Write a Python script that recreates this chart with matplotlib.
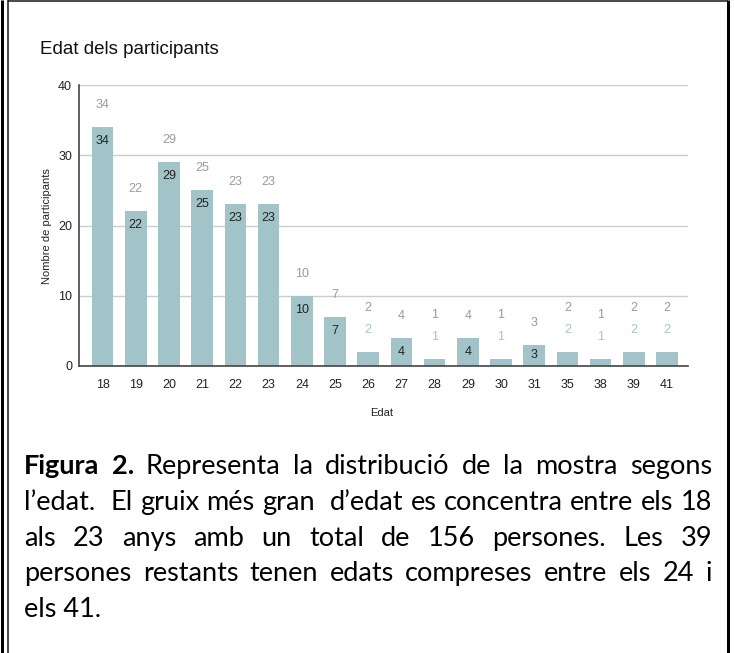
import matplotlib
matplotlib.use("Agg")
import matplotlib.pyplot as plt
from matplotlib.lines import Line2D

# ---- data ----
ages = ['18', '19', '20', '21', '22', '23', '24', '25', '26', '27', '28', '29', '30', '31', '35', '38', '39', '41']
counts = [34, 22, 29, 25, 23, 23, 10, 7, 2, 4, 1, 4, 1, 3, 2, 1, 2, 2]
title = "Edat dels participants"
xlabel = "Edat"
ylabel = "Nombre de participants"
yticks = [0, 10, 20, 30, 40]
caption_lines = [
    [("Figura", "bold"), ("2.", "bold"), ("Representa", "normal"), ("la", "normal"),
     ("distribució", "normal"), ("de", "normal"), ("la", "normal"), ("mostra", "normal"),
     ("segons", "normal")],
    "l’edat.  El gruix més gran  d’edat es concentra entre els 18",
    "als 23 anys amb un total de 156 persones. Les 39",
    "persones restants tenen edats compreses entre els 24 i",
]
caption_last = "els 41."

W, H = 735, 653
DPI = 100
fig = plt.figure(figsize=(W / DPI, H / DPI), dpi=DPI)
fig.patch.set_facecolor("white")

CHART_FONT = ["Liberation Sans", "DejaVu Sans"]
CAP_FONT = ["Lato", "DejaVu Sans"]

bar_color = "#a2c4c9"
gray_lbl = "#9a9a9a"
dark_lbl = "#222222"

ax_l, ax_r, ax_t, ax_b = 79, 688, 85, 366
ax = fig.add_axes([ax_l / W, 1 - ax_b / H, (ax_r - ax_l) / W, (ax_b - ax_t) / H])
x = list(range(len(ages)))
ax.bar(x, counts, width=0.65, color=bar_color, zorder=3)
ax.set_xlim(-0.71, len(ages) - 1 + 0.63)
ax.set_ylim(0, 40)
ax.set_yticks(yticks)
ax.set_xticks(x)
ax.set_xticklabels(ages)
ax.grid(axis="y", color="#cccccc", linewidth=1.0, zorder=0)
for s in ["top", "right"]:
    ax.spines[s].set_visible(False)
for s in ["left", "bottom"]:
    ax.spines[s].set_color("#444444")
    ax.spines[s].set_linewidth(1.2)
    ax.spines[s].set_zorder(4)
ax.tick_params(length=0, labelsize=9, colors="#222222", pad=9)
for lbl in ax.get_xticklabels() + ax.get_yticklabels():
    lbl.set_family(CHART_FONT)
ax.tick_params(axis="y", pad=5)

px_per_unit = (ax_b - ax_t) / 40.0
LBL = 9
for xi, v in zip(x, counts):
    h_px = v * px_per_unit
    if v >= 3:
        ax.annotate(str(v), (xi, v), xytext=(0, 22), textcoords="offset pixels",
                    ha="center", va="center", fontsize=LBL, color=gray_lbl, family=CHART_FONT, zorder=5)
        if h_px >= 28:
            ax.annotate(str(v), (xi, v), xytext=(0, -14), textcoords="offset pixels",
                        ha="center", va="center", fontsize=LBL, color=dark_lbl, family=CHART_FONT, zorder=5)
        else:
            ax.annotate(str(v), (xi, v / 2.0), ha="center", va="center", fontsize=LBL,
                        color=dark_lbl, family=CHART_FONT, zorder=5)
    else:
        ax.annotate(str(v), (xi, v), xytext=(0, 22), textcoords="offset pixels",
                    ha="center", va="center", fontsize=LBL, color=bar_color, family=CHART_FONT, zorder=5)
        ax.annotate(str(v), (xi, v), xytext=(0, 44), textcoords="offset pixels",
                    ha="center", va="center", fontsize=LBL, color=gray_lbl, family=CHART_FONT, zorder=5)

# title and axis labels
fig.text(40 / W, 1 - 50 / H, title, ha="left", va="center", fontsize=13.5, color="#111111", family=CHART_FONT)
fig.text(382 / W, 1 - 413 / H, xlabel, ha="center", va="center", fontsize=8, color="#222222", family=CHART_FONT)
fig.text(47 / W, 1 - 226 / H, ylabel, ha="center", va="center", rotation=90, fontsize=8, color="#222222", family=CHART_FONT)

# caption (justified)
renderer = fig.canvas.get_renderer()
left_px, right_px = 24, 712
base0, step = 474, 35.8


def tokens_of(line):
    if isinstance(line, str):
        return [(w, "normal") for w in line.split(" ")]
    return line


# choose font size so the fullest line (line 2) just fits with normal spacing
probe = fig.text(0, 0, caption_lines[1], fontsize=10, family=CAP_FONT)
w10 = probe.get_window_extent(renderer).width
probe.remove()
cap_size = min(20.0, 10 * 682.0 / w10)

for i, line in enumerate(caption_lines):
    toks = tokens_of(line)
    ypx = base0 + i * step
    objs, widths = [], []
    for w, wt in toks:
        t = fig.text(0, 1 - ypx / H, w, ha="left", va="baseline", fontsize=cap_size,
                     weight=wt, color="#000000", family=CAP_FONT)
        widths.append(t.get_window_extent(renderer).width if w else 0.0)
        objs.append(t)
    gaps = len(toks) - 1
    gap = (right_px - left_px - sum(widths)) / gaps
    cur = left_px
    for t, wd in zip(objs, widths):
        t.set_x(cur / W)
        cur += wd + gap

fig.text(left_px / W, 1 - (base0 + 4 * step) / H, caption_last, ha="left", va="baseline",
         fontsize=cap_size, color="#000000", family=CAP_FONT)


# frame lines
def vline(xp, y0, y1, lw_px, color):
    fig.add_artist(Line2D([xp / W, xp / W], [1 - y0 / H, 1 - y1 / H], transform=fig.transFigure,
                          color=color, linewidth=lw_px * 72 / DPI, solid_capstyle="butt"))


def hline(yp, x0, x1, lw_px, color):
    fig.add_artist(Line2D([x0 / W, x1 / W], [1 - yp / H, 1 - yp / H], transform=fig.transFigure,
                          color=color, linewidth=lw_px * 72 / DPI, solid_capstyle="butt"))


vline(1.5, 0, H, 3, "#000000")
vline(8, 0, H, 1.5, "#111111")
hline(1, 8, 728, 1.5, "#111111")
vline(727.5, 0, H, 3, "#000000")

fig.savefig("out.png", dpi=DPI, facecolor="white")
